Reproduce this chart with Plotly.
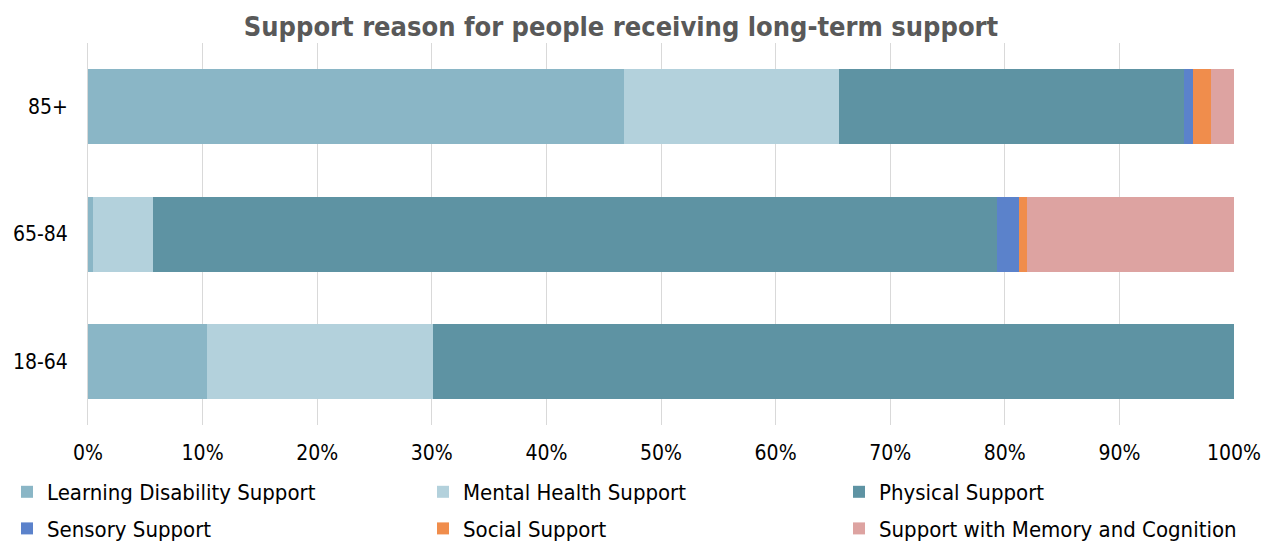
import plotly.graph_objects as go

categories = ["18-64", "65-84", "85+"]
series_names = ["Learning Disability Support", "Mental Health Support", "Physical Support",
                "Sensory Support", "Social Support", "Support with Memory and Cognition"]
learning = [10.4, 0.4, 46.8]
mental = [19.7, 5.3, 18.7]
physical = [69.9, 73.6, 30.1]
sensory = [0.0, 1.9, 0.8]
social = [0.0, 0.7, 1.6]
memory = [0.0, 18.1, 2.0]
tick_vals = [0, 10, 20, 30, 40, 50, 60, 70, 80, 90, 100]
tick_text = [f"{v}%" for v in tick_vals]

colors = ["#8AB6C6", "#B3D1DC", "#5E93A3", "#5B82CB", "#F08D4C", "#DDA3A1"]
values = [learning, mental, physical, sensory, social, memory]
# legend column assignment (3 columns, 2 rows, row-major as in the reference)
legend_ids = ["legend", "legend2", "legend3", "legend", "legend2", "legend3"]

font_family = "DejaVu Sans Condensed, DejaVu Sans, sans-serif"

W, H = 1261, 541
ML, MR, MT, MB = 88, 27, 43, 116
PW = W - ML - MR
PH = H - MT - MB

fig = go.Figure()
for i, (name, vals, col, lg) in enumerate(zip(series_names, values, colors, legend_ids)):
    fig.add_trace(go.Bar(
        y=categories, x=vals, name=name, orientation="h",
        marker=dict(color=col, line=dict(width=0)),
        legend=lg, legendgroup=f"g{i}",
    ))

def px_x(px):
    return (px - ML) / PW

def px_y(py):
    return (H - MB - py) / PH

legend_text_x = [47, 463, 879]
legend_top = 471
common_leg = dict(orientation="v", xanchor="left", yanchor="top",
                  font=dict(size=22, family=font_family, color="#000000"),
                  itemwidth=30, tracegroupgap=5, traceorder="grouped",
                  bgcolor="rgba(0,0,0,0)", borderwidth=0)

fig.update_layout(
    barmode="stack",
    bargap=0.411,
    width=W, height=H,
    margin=dict(l=ML, r=MR, t=MT, b=MB, autoexpand=False),
    paper_bgcolor="white", plot_bgcolor="white",
    font=dict(family=font_family, size=21, color="#000000"),
    title=dict(text="<b>Support reason for people receiving long-term support</b>",
               x=px_x(621), xanchor="center", xref="paper", y=1 - 27 / H, yanchor="middle",
               font=dict(size=27, color="#595959", family=font_family)),
    xaxis=dict(range=[0, 100], tickvals=tick_vals, ticktext=tick_text,
               showgrid=True, gridcolor="#D9D9D9", gridwidth=1,
               zeroline=False, showline=False, ticks="", fixedrange=True,
               tickfont=dict(size=21), ticklabelstandoff=13,
               ticklabeloverflow="allow"),
    yaxis=dict(showgrid=False, showline=True, linecolor="#D9D9D9", linewidth=1,
               ticks="", tickfont=dict(size=21), range=[-0.5, 2.5],
               ticklabelstandoff=15, fixedrange=True),
    legend=dict(x=px_x(legend_text_x[0] - 40), y=px_y(legend_top), **common_leg),
    legend2=dict(x=px_x(legend_text_x[1] - 40), y=px_y(legend_top), **common_leg),
    legend3=dict(x=px_x(legend_text_x[2] - 40), y=px_y(legend_top), **common_leg),
    showlegend=True,
)

fig.write_html(
    "out.html",
    config={"displayModeBar": False},
    post_script="document.body.style.margin='0';document.body.style.overflow='hidden';",
)
